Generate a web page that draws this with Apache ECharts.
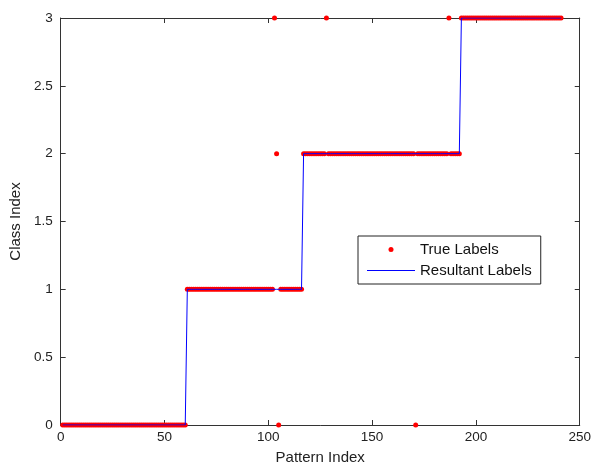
<!DOCTYPE html>
<html>
<head>
<meta charset="utf-8">
<script src="https://cdn.jsdelivr.net/npm/echarts@6/dist/echarts.min.js"></script>
<style>
html,body{margin:0;padding:0;background:#fff;}
#chart{width:594px;height:470px;}
</style>
</head>
<body>
<div id="chart"></div>
<script>
// Resultant (predicted) labels, pattern index 1..241
var resultantLabels = [
0,0,0,0,0,0,0,0,0,0,0,0,0,0,0,0,0,0,0,0,
0,0,0,0,0,0,0,0,0,0,0,0,0,0,0,0,0,0,0,0,
0,0,0,0,0,0,0,0,0,0,0,0,0,0,0,0,0,0,0,0,
1,1,1,1,1,1,1,1,1,1,1,1,1,1,1,1,1,1,1,1,
1,1,1,1,1,1,1,1,1,1,1,1,1,1,1,1,1,1,1,1,
1,1,1,1,1,1,1,1,1,1,1,1,1,1,1,1,2,2,2,2,
2,2,2,2,2,2,2,2,2,2,2,2,2,2,2,2,2,2,2,2,
2,2,2,2,2,2,2,2,2,2,2,2,2,2,2,2,2,2,2,2,
2,2,2,2,2,2,2,2,2,2,2,2,2,2,2,2,2,2,2,2,
2,2,2,2,2,2,2,2,2,2,2,2,3,3,3,3,3,3,3,3,
3,3,3,3,3,3,3,3,3,3,3,3,3,3,3,3,3,3,3,3,
3,3,3,3,3,3,3,3,3,3,3,3,3,3,3,3,3,3,3,3,
3
];
// True labels, pattern index 1..241
var trueLabels = [
0,0,0,0,0,0,0,0,0,0,0,0,0,0,0,0,0,0,0,0,
0,0,0,0,0,0,0,0,0,0,0,0,0,0,0,0,0,0,0,0,
0,0,0,0,0,0,0,0,0,0,0,0,0,0,0,0,0,0,0,0,
1,1,1,1,1,1,1,1,1,1,1,1,1,1,1,1,1,1,1,1,
1,1,1,1,1,1,1,1,1,1,1,1,1,1,1,1,1,1,1,1,
1,1,3,2,0,1,1,1,1,1,1,1,1,1,1,1,2,2,2,2,
2,2,2,2,2,2,2,3,2,2,2,2,2,2,2,2,2,2,2,2,
2,2,2,2,2,2,2,2,2,2,2,2,2,2,2,2,2,2,2,2,
2,2,2,2,2,2,2,2,2,2,0,2,2,2,2,2,2,2,2,2,
2,2,2,2,2,2,3,2,2,2,2,2,3,3,3,3,3,3,3,3,
3,3,3,3,3,3,3,3,3,3,3,3,3,3,3,3,3,3,3,3,
3,3,3,3,3,3,3,3,3,3,3,3,3,3,3,3,3,3,3,3,
3
];
var seriesNames = ['True Labels', 'Resultant Labels'];
var xTitle = 'Pattern Index';
var yTitle = 'Class Index';

var trueData = trueLabels.map(function (v, i) { return [i + 1, v]; });
var resData = resultantLabels.map(function (v, i) { return [i + 1, v]; });

var axisColor = '#333';
var font = 'Liberation Sans, Arial, Helvetica, sans-serif';

function boxAxis(pos, min, max, interval) {
  return {
    type: 'value', min: min, max: max, interval: interval, position: pos,
    axisLine: {show: true, onZero: false, lineStyle: {color: axisColor, width: 1}},
    axisTick: {show: true, inside: true, length: 5, lineStyle: {color: axisColor}},
    axisLabel: {show: false},
    splitLine: {show: false}
  };
}

var chart = echarts.init(document.getElementById('chart'), null, {renderer: 'canvas'});
chart.setOption({
  animation: false,
  backgroundColor: '#fff',
  grid: {left: 59, right: 12, top: 18, bottom: 39, containLabel: false},
  xAxis: [{
    type: 'value', min: 0, max: 250, interval: 50, position: 'bottom',
    name: xTitle, nameLocation: 'middle', nameGap: 25,
    nameTextStyle: {fontSize: 15, color: '#222', fontFamily: font},
    axisLine: {show: true, onZero: false, lineStyle: {color: axisColor, width: 1}},
    axisTick: {show: true, inside: true, length: 5, lineStyle: {color: axisColor}},
    axisLabel: {fontSize: 13.5, color: '#222', margin: 5, fontFamily: font},
    splitLine: {show: false}
  }, boxAxis('top', 0, 250, 50)],
  yAxis: [{
    type: 'value', min: 0, max: 3, interval: 0.5, position: 'left',
    name: yTitle, nameLocation: 'middle', nameGap: 37, nameRotate: 90,
    nameTextStyle: {fontSize: 15, color: '#222', fontFamily: font},
    axisLine: {show: true, onZero: false, lineStyle: {color: axisColor, width: 1}},
    axisTick: {show: true, inside: true, length: 5, lineStyle: {color: axisColor}},
    axisLabel: {fontSize: 13.5, color: '#222', margin: 8, fontFamily: font},
    splitLine: {show: false}
  }, boxAxis('right', 0, 3, 0.5)],
  legend: {
    orient: 'vertical',
    left: 358, top: 236,
    padding: [6, 9, 6, 9],
    itemGap: 6,
    itemWidth: 48, itemHeight: 5,
    borderColor: '#222', borderWidth: 1,
    backgroundColor: '#fff',
    textStyle: {fontSize: 15, color: '#111', fontFamily: font},
    data: [
      {name: seriesNames[0], icon: 'circle'},
      {name: seriesNames[1], icon: 'path://M0,0L48,0L48,1.2L0,1.2Z'}
    ]
  },
  series: [{
    name: seriesNames[0],
    type: 'scatter',
    data: trueData,
    symbol: 'circle',
    symbolSize: 5,
    itemStyle: {color: '#ff0000', opacity: 1},
    z: 2
  }, {
    name: seriesNames[1],
    type: 'line',
    data: resData,
    symbol: 'none',
    showSymbol: false,
    lineStyle: {color: '#0000ff', width: 1},
    itemStyle: {color: '#0000ff'},
    z: 3
  }]
});
</script>
</body>
</html>
